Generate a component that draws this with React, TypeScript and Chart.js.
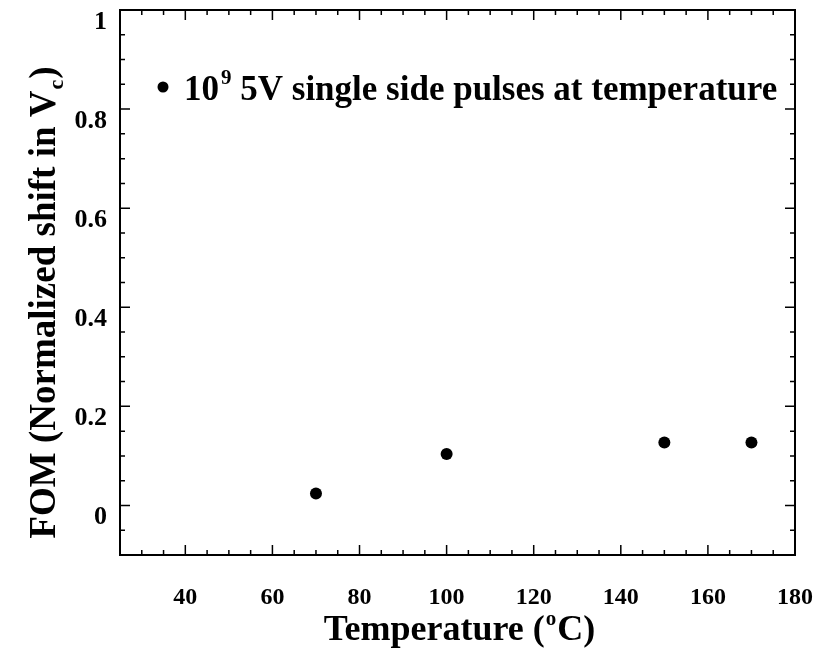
import React, { useEffect, useRef } from "react";
import { Chart, registerables } from "chart.js";

Chart.register(...registerables);

// ---- data ----
const temperatures = [70, 100, 150, 170];
const fomValues = [0.024, 0.104, 0.127, 0.127];
const xRange = [25, 180];
const yRange = [-0.1, 1];
const xMinorStep = 5;
const xMajorStep = 20;
const xFirstLabel = 40;
const yMinorStep = 0.05;
const yMajorStep = 0.2;
const legendParts = ["10", "9", " 5V single side pulses at temperature"];
const xTitleParts = ["Temperature (", "o", "C)"];
const yTitleParts = ["FOM (Normalized shift in V", "c", ")"];

const FONT = "'Liberation Serif', 'Times New Roman', serif";

const isMultiple = (v: number, step: number) => {
  const r = v / step;
  return Math.abs(r - Math.round(r)) < 1e-6;
};

const decorPlugin = {
  id: "decor",
  afterDraw(chart: any) {
    const { ctx, chartArea } = chart;
    const { left, right, top, bottom } = chartArea;
    const xs = chart.scales.x;
    const ys = chart.scales.y;
    ctx.save();
    ctx.strokeStyle = "#000";
    ctx.fillStyle = "#000";
    // frame
    ctx.lineWidth = 2;
    ctx.strokeRect(left, top, right - left, bottom - top);
    // inward ticks on all sides
    ctx.lineWidth = 1.5;
    ctx.beginPath();
    xs.ticks.forEach((t: any) => {
      const px = xs.getPixelForValue(t.value);
      const len = isMultiple(t.value, xMajorStep) ? 10 : 5;
      ctx.moveTo(px, bottom);
      ctx.lineTo(px, bottom - len);
      ctx.moveTo(px, top);
      ctx.lineTo(px, top + len);
    });
    ys.ticks.forEach((t: any) => {
      const py = ys.getPixelForValue(t.value);
      const len = isMultiple(t.value, yMajorStep) ? 10 : 5;
      ctx.moveTo(left, py);
      ctx.lineTo(left + len, py);
      ctx.moveTo(right, py);
      ctx.lineTo(right - len, py);
    });
    ctx.stroke();

    // legend
    const lx = left + 43;
    const ly = top + 77;
    ctx.beginPath();
    ctx.arc(lx, ly, 5.5, 0, Math.PI * 2);
    ctx.fill();
    const big = `bold 35px ${FONT}`;
    const small = `bold 21px ${FONT}`;
    let tx = left + 64;
    const base = top + 90;
    ctx.textBaseline = "alphabetic";
    ctx.textAlign = "left";
    ctx.font = big;
    ctx.fillText(legendParts[0], tx, base);
    tx += ctx.measureText(legendParts[0]).width + 2;
    ctx.font = small;
    ctx.fillText(legendParts[1], tx, base - 16);
    tx += ctx.measureText(legendParts[1]).width;
    ctx.font = big;
    ctx.fillText(legendParts[2], tx, base);

    // x title
    const tBig = `bold 36px ${FONT}`;
    const tSmall = `bold 21px ${FONT}`;
    ctx.font = tBig;
    const w0 = ctx.measureText(xTitleParts[0]).width;
    const w2 = ctx.measureText(xTitleParts[2]).width;
    ctx.font = tSmall;
    const w1 = ctx.measureText(xTitleParts[1]).width + 2;
    const total = w0 + w1 + w2;
    let x0 = (left + right) / 2 - total / 2 + 2;
    const xb = bottom + 85;
    ctx.font = tBig;
    ctx.fillText(xTitleParts[0], x0, xb);
    x0 += w0;
    ctx.font = tSmall;
    ctx.fillText(xTitleParts[1], x0 + 1, xb - 15);
    x0 += w1;
    ctx.font = tBig;
    ctx.fillText(xTitleParts[2], x0, xb);

    // y title (rotated)
    const yBig = `bold 37px ${FONT}`;
    const ySmall = `bold 22px ${FONT}`;
    ctx.save();
    const yCenter = (top + bottom) / 2 + 20;
    ctx.translate(left - 65, yCenter);
    ctx.rotate(-Math.PI / 2);
    ctx.font = yBig;
    const v0 = ctx.measureText(yTitleParts[0]).width;
    const v2 = ctx.measureText(yTitleParts[2]).width;
    ctx.font = ySmall;
    const v1 = ctx.measureText(yTitleParts[1]).width + 2;
    let y0 = -(v0 + v1 + v2) / 2;
    ctx.font = yBig;
    ctx.fillText(yTitleParts[0], y0, 0);
    y0 += v0;
    ctx.font = ySmall;
    ctx.fillText(yTitleParts[1], y0 + 1, 8);
    y0 += v1;
    ctx.font = yBig;
    ctx.fillText(yTitleParts[2], y0, 0);
    ctx.restore();

    ctx.restore();
  },
};

export default function App() {
  const ref = useRef<HTMLCanvasElement | null>(null);
  useEffect(() => {
    if (!ref.current) return;
    const chart = new Chart(ref.current, {
      type: "scatter",
      data: {
        datasets: [
          {
            label: "FOM",
            data: temperatures.map((t, i) => ({ x: t, y: fomValues[i] })),
            backgroundColor: "#000",
            borderColor: "#000",
            pointRadius: 6,
            pointBorderWidth: 0,
            showLine: false,
          },
        ],
      },
      options: {
        responsive: false,
        animation: false,
        layout: { padding: { top: 10, right: 22, left: 0, bottom: 0 } },
        plugins: { legend: { display: false }, tooltip: { enabled: false } },
        scales: {
          x: {
            type: "linear",
            min: xRange[0],
            max: xRange[1],
            grid: { display: false, drawTicks: false },
            border: { display: false },
            ticks: {
              stepSize: xMinorStep,
              autoSkip: false,
              maxRotation: 0,
              padding: 28,
              color: "#000",
              font: { family: FONT, size: 24, weight: "bold" },
              callback: (v: any) => {
                const n = Number(v);
                return isMultiple(n, xMajorStep) && n >= xFirstLabel ? String(Math.round(n)) : "";
              },
            },
            afterFit: (s: any) => {
              s.height = 98;
              s.paddingLeft = 0;
              s.paddingRight = 0;
            },
          },
          y: {
            type: "linear",
            min: yRange[0],
            max: yRange[1],
            grid: { display: false, drawTicks: false },
            border: { display: false },
            ticks: {
              stepSize: yMinorStep,
              autoSkip: false,
              padding: 13,
              labelOffset: 12,
              color: "#000",
              font: { family: FONT, size: 26, weight: "bold" },
              callback: (v: any) => {
                const n = Number(v);
                return isMultiple(n, yMajorStep) && n >= 0 ? String(Math.round(n * 10) / 10) : "";
              },
            },
            afterFit: (s: any) => {
              s.width = 120;
              s.paddingTop = 0;
              s.paddingBottom = 0;
            },
          },
        },
      },
      plugins: [decorPlugin],
    });
    return () => chart.destroy();
  }, []);
  return (
    <div style={{ position: "fixed", left: 0, top: 0, width: 817, height: 653, background: "#fff" }}>
      <canvas ref={ref} width={817} height={653} style={{ display: "block" }} />
    </div>
  );
}
